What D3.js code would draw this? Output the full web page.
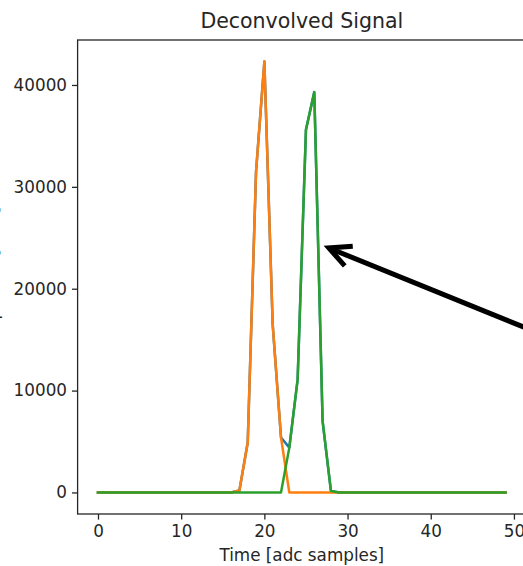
<!DOCTYPE html>
<html>
<head>
<meta charset="utf-8">
<script src="https://cdn.jsdelivr.net/npm/d3@7"></script>
<style>
  body { margin: 0; background: #fff; }
  text { font-family: "DejaVu Sans", sans-serif; fill: #262626; }
  .tick text { font-size: 16.8px; }
</style>
</head>
<body>
<svg id="chart" width="523" height="566"></svg>
<script>
// 1: DATA
const samples = d3.range(0, 50);
const xTicks = [0, 10, 20, 30, 40, 50];
const yTicks = [0, 10000, 20000, 30000, 40000];

// total (blue), mostly hidden under the other two
const totalSignal = [
  0, 0, 0, 0, 0, 0, 0, 0, 0, 0,
  0, 0, 0, 0, 0, 0, 0, 200, 4900, 31500,
  42300, 16500, 5400, 4400, 11100, 35600, 39300, 7000, 150, 0,
  0, 0, 0, 0, 0, 0, 0, 0, 0, 0,
  0, 0, 0, 0, 0, 0, 0, 0, 0, 0
];
const firstPulse = [
  0, 0, 0, 0, 0, 0, 0, 0, 0, 0,
  0, 0, 0, 0, 0, 0, 0, 200, 4900, 31500,
  42300, 16500, 5400, 0, 0, 0, 0, 0, 0, 0,
  0, 0, 0, 0, 0, 0, 0, 0, 0, 0,
  0, 0, 0, 0, 0, 0, 0, 0, 0, 0
];
const secondPulse = [
  0, 0, 0, 0, 0, 0, 0, 0, 0, 0,
  0, 0, 0, 0, 0, 0, 0, 0, 0, 0,
  0, 0, 0, 4400, 11100, 35600, 39300, 7000, 150, 0,
  0, 0, 0, 0, 0, 0, 0, 0, 0, 0,
  0, 0, 0, 0, 0, 0, 0, 0, 0, 0
];
// arrow annotation: tip in data coords, tail runs off the right edge
const arrowTip = [27.75, 24000];
const arrowTail = [56.1, 14600];

// 2: LAYOUT
const plot = { left: 77.6, right: 526, top: 40, bottom: 514 };
const svg = d3.select("#chart");

// 3: SCALES
const xScale = d3.scaleLinear()
    .domain([-2.45, 51.45])
    .range([plot.left, plot.right]);

const yScale = d3.scaleLinear()
    .domain([-2115, 44415])
    .range([plot.bottom, plot.top]);

// 4: LINES
const line = d3.line()
    .x((d, i) => xScale(samples[i]))
    .y(d => yScale(d));

const series = [
  { values: totalSignal, color: "#1f77b4" },
  { values: firstPulse, color: "#ff7f0e" },
  { values: secondPulse, color: "#2ca02c" }
];

series.forEach(s => {
    svg.append("path")
        .datum(s.values)
        .attr("d", line)
        .attr("fill", "none")
        .attr("stroke", s.color)
        .attr("stroke-width", 2.5)
        .attr("stroke-linejoin", "round")
        .attr("stroke-linecap", "square");
});

// 5: AXES
const xAxis = svg.append("g")
    .attr("transform", `translate(0, ${plot.bottom})`)
    .call(d3.axisBottom(xScale).tickValues(xTicks).tickSize(5.6).tickPadding(5).tickSizeOuter(0));

const yAxis = svg.append("g")
    .attr("transform", `translate(${plot.left}, 0)`)
    .call(d3.axisLeft(yScale).tickValues(yTicks).tickFormat(d => d).tickSize(5.6).tickPadding(5).tickSizeOuter(0));

[xAxis, yAxis].forEach(g => {
    g.select(".domain").remove();
    g.selectAll(".tick line").attr("stroke", "#262626").attr("stroke-width", 1.3);
    g.selectAll(".tick text").style("font-family", "DejaVu Sans").style("fill", "#262626");
});

// spines
svg.append("rect")
    .attr("x", plot.left)
    .attr("y", plot.top)
    .attr("width", plot.right - plot.left)
    .attr("height", plot.bottom - plot.top)
    .attr("fill", "none")
    .attr("stroke", "#262626")
    .attr("stroke-width", 1.3);

// 6: LABELS
svg.append("text")
    .attr("x", (plot.left + plot.right) / 2)
    .attr("y", 28)
    .attr("text-anchor", "middle")
    .style("font-size", "20.5px")
    .text("Deconvolved Signal");

svg.append("text")
    .attr("x", (plot.left + plot.right) / 2)
    .attr("y", 561)
    .attr("text-anchor", "middle")
    .style("font-size", "16.8px")
    .text("Time [adc samples]");

// y label, almost entirely cut off at the left edge
svg.append("text")
    .attr("transform", "rotate(-90)")
    .attr("x", -(plot.top + plot.bottom) / 2)
    .attr("y", -2.5)
    .attr("text-anchor", "middle")
    .style("font-size", "16.8px")
    .text("Amplitude [ADC]");

// 7: ARROW ANNOTATION
const tip = [xScale(arrowTip[0]), yScale(arrowTip[1])];
const tail = [xScale(arrowTail[0]), yScale(arrowTail[1])];
const ang = Math.atan2(tail[1] - tip[1], tail[0] - tip[0]);
const headLen = 24, headSpread = 0.46;

svg.append("line")
    .attr("x1", tail[0]).attr("y1", tail[1])
    .attr("x2", tip[0] + 2 * Math.cos(ang)).attr("y2", tip[1] + 2 * Math.sin(ang))
    .attr("stroke", "#000")
    .attr("stroke-width", 5);

svg.append("path")
    .attr("d", d3.line()([
        [tip[0] + headLen * Math.cos(ang - headSpread), tip[1] + headLen * Math.sin(ang - headSpread)],
        tip,
        [tip[0] + headLen * Math.cos(ang + headSpread), tip[1] + headLen * Math.sin(ang + headSpread)]
    ]))
    .attr("fill", "none")
    .attr("stroke", "#000")
    .attr("stroke-width", 5)
    .attr("stroke-linejoin", "miter");
</script>
</body>
</html>
